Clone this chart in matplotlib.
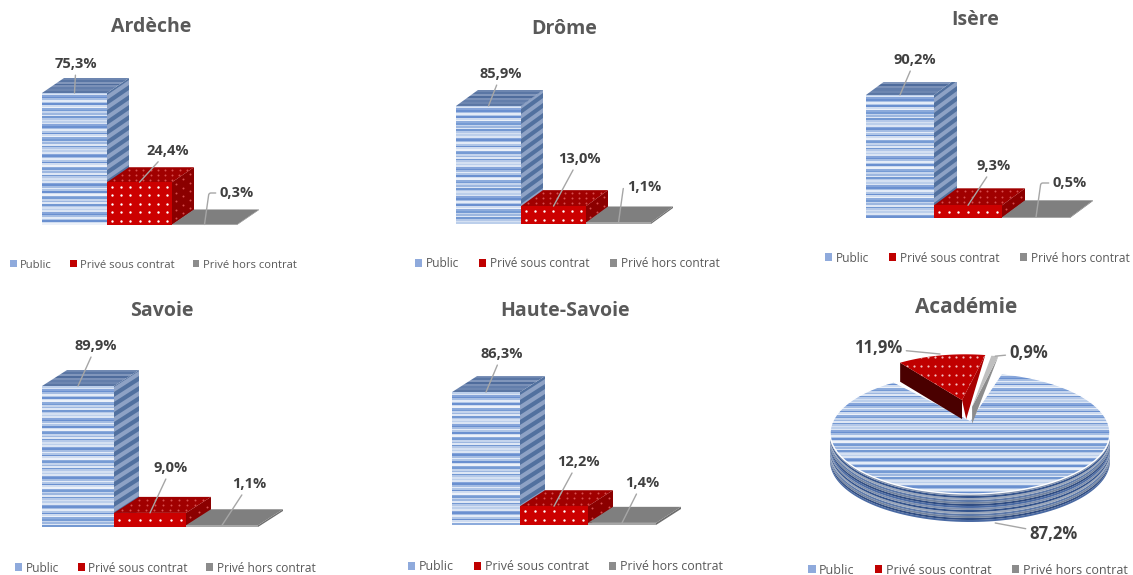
import numpy as np
import matplotlib
matplotlib.use('Agg')
import matplotlib.pyplot as plt
from matplotlib.patches import Patch, Polygon

plt.rcParams['font.family'] = ['Open Sans', 'DejaVu Sans']

W, H = 1133, 575

# donnees
categories = ["Public", "Privé sous contrat", "Privé hors contrat"]
ardeche = [75.3, 24.4, 0.3]
drome = [85.9, 13.0, 1.1]
isere = [90.2, 9.3, 0.5]
savoie = [89.9, 9.0, 1.1]
haute_savoie = [86.3, 12.2, 1.4]
academie = [87.2, 11.9, 0.9]

# mise en page, en pixels : gauche, base, largeur barre, px par %, profondeur x, y
# puis titre, etiquettes, legende (position, taille, espace entre colonnes)
panneaux = [
    ("Ardèche", ardeche, 42, 225, 65, 1.753, 22, 15, (151, 27),
     [(76, 64), (168, 151), (237, 193)], (10, 265), 8.1, 1.6),
    ("Drôme", drome, 456, 224, 65, 1.374, 22, 16, (564, 29),
     [(501, 74), (579, 159), (644, 187)], (415, 264), 8.6, 1.7),
    ("Isère", isere, 866, 218, 68, 1.364, 23, 17, (975, 20),
     [(915, 60), (994, 166), (1070, 183)], (825, 258), 8.6, 1.7),
    ("Savoie", savoie, 42, 527, 72, 1.568, 25, 16, (162, 311),
     [(96, 346), (171, 468), (249, 484)], (15, 568), 8.6, 1.55),
    ("Haute-Savoie", haute_savoie, 452, 525, 68, 1.54, 25, 16, (565, 311),
     [(502, 354), (578, 462), (642, 483)], (408, 567), 8.9, 1.6),
]

rayures_bleu = ['#bccfeb', '#dbe5f4', '#86a5da', '#6a90d0', '#a5bde3', '#e3ebf7',
                '#b0c6e7', '#6a90d0', '#cfdcf0', '#ecf1f9', '#8cabdc', '#769bd4',
                '#c4d4ed', '#9db7e0', '#dee7f5', '#7398d2', '#b4c8e8', '#d4e0f2']
rayures_dessus = ['#6d86b0', '#5a76a4', '#8196bb', '#4f6c9c', '#7a90b7', '#637eab']
rayures_cote = ['#52719f', '#8ea2c5']
couches_pie = ['#4a6aa3', '#8090ad', '#33538c', '#9aa6ba', '#5c78a8', '#75859f', '#2f4c82']
couleurs_legende = ['#8faadc', '#c00000', '#8c8c8c']
gris_texte = '#595959'
gris_label = '#404040'
gris_ligne = '#a6a6a6'


def px_axes(fig, gauche, haut, droite, bas):
    return fig.add_axes([gauche / W, 1 - bas / H, (droite - gauche) / W, (bas - haut) / H])


def rayures(ax, patch, couleurs, nb):
    # image de rayures horizontales, decoupee par le patch
    x0, y0, x1, y1 = patch.get_path().transformed(patch.get_patch_transform()).get_extents().extents
    idx = np.arange(nb) % len(couleurs)
    rgb = np.array([matplotlib.colors.to_rgb(couleurs[i]) for i in idx])[:, None, :]
    im = ax.imshow(rgb, extent=(x0, x1, y0, y1), aspect='auto', interpolation='nearest',
                   zorder=patch.get_zorder())
    im.set_clip_path(patch)


def points(ax, origine, u, v, nu, nv, patch, couleur, taille):
    # semis de points reguliers sur une face
    uu, vv = np.meshgrid((np.arange(nu) + 0.5) / nu, (np.arange(nv) + 0.5) / nv)
    xs = origine[0] + uu * u[0] + vv * v[0]
    ys = origine[1] + uu * u[1] + vv * v[1]
    sc = ax.scatter(xs, ys, s=taille, c=couleur, linewidths=0, zorder=patch.get_zorder() + 0.1)
    sc.set_clip_path(patch)


def barre_3d(ax, i, h, dx, dy, ordre):
    px_par_val = ax.bbox.height / (ax.get_ylim()[1] - ax.get_ylim()[0])
    rangs = max(1, int(h * px_par_val / 8))
    cote = Polygon([(i + 1, 0), (i + 1 + dx, dy), (i + 1 + dx, h + dy), (i + 1, h)], zorder=ordre)
    dessus = Polygon([(i, h), (i + dx, h + dy), (i + 1 + dx, h + dy), (i + 1, h)], zorder=ordre)
    if i == 0:
        cote.set(facecolor=rayures_cote[0], edgecolor='none')
        dessus.set(facecolor='none', edgecolor='none')
        ax.add_patch(cote)
        ax.add_patch(dessus)
        # bandes obliques du cote
        pas_v = 5.0 / px_par_val
        for k, v in enumerate(np.arange(0, h, pas_v)):
            if k % 2:
                b = Polygon([(i + 1, v), (i + 1 + dx, v + dy), (i + 1 + dx, v + dy + pas_v), (i + 1, v + pas_v)],
                            facecolor=rayures_cote[1], edgecolor='none', zorder=ordre)
                ax.add_patch(b)
                b.set_clip_path(cote)
        rayures(ax, dessus, rayures_dessus, 8)
        barre = ax.bar(i + 0.5, h, width=1, color='none', zorder=ordre + 0.2)[0]
        rayures(ax, barre, rayures_bleu, int(h * px_par_val / 1.6))
    elif i == 1:
        cote.set(facecolor='#8b0000', edgecolor='none')
        dessus.set(facecolor='#a00000', edgecolor='none')
        ax.add_patch(cote)
        ax.add_patch(dessus)
        points(ax, (i + 1, 0), (dx, dy), (0, h), 3, rangs, cote, '#d85050', 2)
        points(ax, (i, h), (1, 0), (dx, dy), 9, 3, dessus, '#d85050', 2)
        barre = ax.bar(i + 0.5, h, width=1, color='#cc0000', zorder=ordre + 0.2)[0]
        points(ax, (i, 0), (1, 0), (0, h), 7, rangs, barre, 'white', 3)
    else:
        cote.set(facecolor='#6e6e6e', edgecolor='none')
        dessus.set(facecolor='#7f7f7f', edgecolor='none')
        ax.add_patch(cote)
        ax.add_patch(dessus)
        ax.bar(i + 0.5, h, width=1, color='#a6a6a6', zorder=ordre + 0.2)


def legende(fig, ax, pos, taille, espace):
    poignees = [Patch(facecolor=c, edgecolor='none') for c in couleurs_legende]
    leg = ax.legend(poignees, categories, ncols=3, loc='center left',
                    bbox_to_anchor=(pos[0] / W, 1 - pos[1] / H), bbox_transform=fig.transFigure,
                    frameon=False, fontsize=taille, handlelength=0.6, handleheight=0.6,
                    handletextpad=0.3, columnspacing=espace, borderpad=0, borderaxespad=0)
    for t in leg.get_texts():
        t.set_color(gris_texte)


fig = plt.figure(figsize=(W / 100, H / 100), dpi=100, facecolor='white')

for titre, valeurs, gauche, base, largeur, echelle, prof_x, prof_y, pos_titre, pos_labels, pos_leg, taille, espace in panneaux:
    droite = gauche + 3 * largeur + prof_x
    haut = base - 100 * echelle
    ax = px_axes(fig, gauche, haut, droite, base)
    ax.set_xlim(0, droite / largeur - gauche / largeur)
    ax.set_ylim(0, 100)
    ax.set_autoscale_on(False)
    ax.axis('off')
    dx = prof_x / largeur
    dy = prof_y / echelle

    for i, v in enumerate(valeurs):
        barre_3d(ax, i, v, dx, dy, 2 + i)

    # etiquettes avec ligne de rappel
    for i, v in enumerate(valeurs):
        fleche = dict(arrowstyle='-', color=gris_ligne, lw=1, shrinkA=1, shrinkB=0)
        if i == 2 and base < 300:
            fleche['connectionstyle'] = 'angle,angleA=0,angleB=82,rad=2'
        ax.annotate(f"{v:.1f}%".replace('.', ','), xy=(i + 0.5, v),
                    xytext=(pos_labels[i][0], H - pos_labels[i][1]), textcoords='figure pixels',
                    ha='center', va='center', fontsize=10.5, fontweight='bold', color=gris_label,
                    arrowprops=fleche, zorder=8)

    fig.text(pos_titre[0] / W, 1 - pos_titre[1] / H, titre, ha='center', va='center',
             fontsize=14, fontweight='bold', color=gris_texte)
    legende(fig, ax, pos_leg, taille, espace)

# camembert academie : 1 unite = 140 px en x, 61 px en y, centre en (970, 433)
ax = px_axes(fig, 830, 340, 1110, 540)
ax.set_xlim(-1, 1)
ax.set_ylim(-107 / 61, 93 / 61)
ax.set_autoscale_on(False)
ax.axis('off')

EPAIS = 28 / 61.0
EPAIS_PART = 19 / 61.0
SOMMET = 0.21
DEPART = 13.0


def arc(a, b, r=1.0, dx=0.0, dy=0.0, n=80):
    t = np.radians(np.linspace(a, b, n))
    return np.column_stack([dx + r * np.sin(t), dy + r * np.cos(t)])


# tranche : angle de debut et de fin lus depuis les valeurs
bornes = DEPART + np.concatenate([[0], np.cumsum(academie) * 3.6])

# epaisseur du public, couches empilees
nb_couches = 14
for k in range(nb_couches, 0, -1):
    dec = -EPAIS * k / nb_couches
    ax.add_patch(Polygon(arc(90, 270, dy=dec).tolist() + arc(270, 90, dy=dec + EPAIS / nb_couches).tolist(),
                         facecolor=couches_pie[k % len(couches_pie)], edgecolor='none', zorder=2))

dessus = Polygon([(0, SOMMET)] + arc(bornes[0], bornes[1]).tolist(), facecolor='none',
                 edgecolor='none', zorder=3)
ax.add_patch(dessus)
rayures(ax, dessus, rayures_bleu, 80)
contour = Polygon(dessus.get_xy(), facecolor='none', edgecolor='white', lw=1, zorder=3.5)
ax.add_patch(contour)

# part privee sous contrat, sortie du camembert
bord = arc(bornes[1], bornes[2], r=0.85, dx=-0.035, dy=0.44)
pointe = (-0.057, 0.54)
ax.add_patch(Polygon([bord[0], pointe, (pointe[0], pointe[1] - EPAIS_PART), (bord[0][0], bord[0][1] - EPAIS_PART)],
                     facecolor='#4a0000', edgecolor='none', zorder=5))
ax.add_patch(Polygon([pointe, bord[-1], (pointe[0] + 0.03, pointe[1] - EPAIS_PART)],
                     facecolor='#a80000', edgecolor='none', zorder=5))
part = Polygon([pointe] + bord.tolist(), facecolor='#c00000', edgecolor='none', zorder=6)
ax.add_patch(part)
pts_x, pts_y = np.meshgrid(np.arange(-0.5, 0.15, 0.05), np.arange(0.5, 1.4, 0.15))
sc = ax.scatter(pts_x, pts_y, s=2.5, c='#f4c0c0', linewidths=0, zorder=6.1)
sc.set_clip_path(part)

# part privee hors contrat
bord = arc(bornes[2], bornes[3], r=0.9, dx=0.0, dy=0.38)
pointe = (0.015, 0.43)
ax.add_patch(Polygon([pointe, bord[-1], (pointe[0] + 0.0, pointe[1] - EPAIS_PART * 0.9)],
                     facecolor='#8c8c8c', edgecolor='none', zorder=5))
ax.add_patch(Polygon([pointe] + bord.tolist(), facecolor='#bfbfbf', edgecolor='none', zorder=5.5))

# etiquettes, positions en pixels de la figure
pos_academie = [(1054, 534), (878, 348), (1029, 353)]
cibles = [(0.18, -1.475), (-0.214, 1.295), (0.18, 1.26)]
for v, pos, cible in zip(academie, pos_academie, cibles):
    ax.annotate(f"{v:.1f}%".replace('.', ','), xy=cible, xytext=(pos[0], H - pos[1]),
                textcoords='figure pixels', ha='center', va='center', fontsize=12,
                fontweight='bold', color=gris_label,
                arrowprops=dict(arrowstyle='-', color=gris_ligne, lw=1, shrinkA=1, shrinkB=0), zorder=8)

fig.text(966 / W, 1 - 308 / H, "Académie", ha='center', va='center', fontsize=15,
         fontweight='bold', color=gris_texte)
legende(fig, ax, (808, 570), 9.0, 1.6)

fig.savefig('out.png', dpi=100, facecolor='white')
